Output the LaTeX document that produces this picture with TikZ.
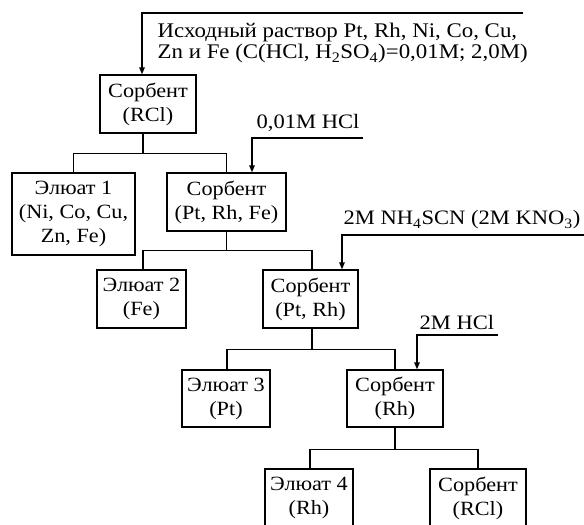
\documentclass[tikz,border=0pt]{standalone}
\usepackage{fontspec}
\setmainfont{Liberation Serif}[FakeStretch=1.1]
\usetikzlibrary{arrows.meta}
\begin{document}
\begin{tikzpicture}[x=1pt,y=-1pt, line width=1.35pt,
  box/.style={draw, align=center, inner sep=0pt, font=\fontsize{20.2}{24}\selectfont},
  lab/.style={inner sep=0pt, font=\fontsize{20.5}{22}\selectfont},
  arr/.style={-{Triangle[length=7pt,width=5.5pt]}}]
\useasboundingbox (0,0) rectangle (584,525);
\clip (0,0) rectangle (584,525);
% boxes
\node[box, minimum width=96, minimum height=58] (b1) at (148,104) {Сорбент\\(RCl)};
\node[box, minimum width=123, minimum height=82] (e1) at (73.5,214) {Элюат 1\\(Ni, Co, Cu,\\Zn, Fe)};
\node[box, minimum width=119, minimum height=58] (s2) at (226.5,202) {Сорбент\\(Pt, Rh, Fe)};
\node[box, minimum width=89, minimum height=58] (e2) at (141.5,299) {Элюат 2\\(Fe)};
\node[box, minimum width=95, minimum height=58] (s3) at (310.5,299) {Сорбент\\(Pt, Rh)};
\node[box, minimum width=88, minimum height=57] (e3) at (226,398.5) {Элюат 3\\(Pt)};
\node[box, minimum width=96, minimum height=57] (s4) at (395,398.5) {Сорбент\\(Rh)};
\node[box, minimum width=88, minimum height=58] (e4) at (309,498) {Элюат 4\\(Rh)};
\node[box, minimum width=96, minimum height=58] (s5) at (478,498) {Сорбент\\(RCl)};
% tree connectors
\draw ([xshift=-5]b1.south) -- ++(0,20) coordinate (j1);
\draw (e1.north) |- (j1) -| (s2.north);
\draw (s2.south) -- ++(0,19) coordinate (j2);
\draw ([xshift=1.5]e2.north) |- (j2) -| ([xshift=1.5]s3.north);
\draw ([xshift=1.5]s3.south) -- ++(0,21) coordinate (j3);
\draw ([xshift=1]e3.north) |- (j3) -| (s4.north);
\draw (s4.south) -- ++(0,22) coordinate (j4);
\draw ([xshift=1]e4.north) |- (j4) -| (s5.north);
% inputs
\coordinate (c0) at (523,13);
\draw[arr] (c0) -| ([xshift=-6]b1.north);
\node[lab, anchor=west, align=left, font=\fontsize{20.8}{21.8}\selectfont] (t0) at (157,43) {Исходный раствор Pt, Rh, Ni, Co, Cu,\\Zn и Fe (C(HCl, H\textsubscript{2}SO\textsubscript{4})=0,01M; 2,0M)};
\coordinate (c1) at (363,138);
\draw[arr] (c1) -| ([xshift=25.5]s2.north);
\node[lab, anchor=west] (t1) at (256,123) {0,01M HCl};
\coordinate (c2) at (584,235);
\draw[arr] (c2) -| ([xshift=31.5]s3.north);
\node[lab, anchor=west] (t2) at (343,220) {2M NH\textsubscript{4}SCN (2M KNO\textsubscript{3})};
\coordinate (c3) at (498,335);
\draw[arr] (c3) -| ([xshift=22]s4.north);
\node[lab, anchor=west] (t3) at (419,322) {2M HCl};
\end{tikzpicture}
\end{document}
